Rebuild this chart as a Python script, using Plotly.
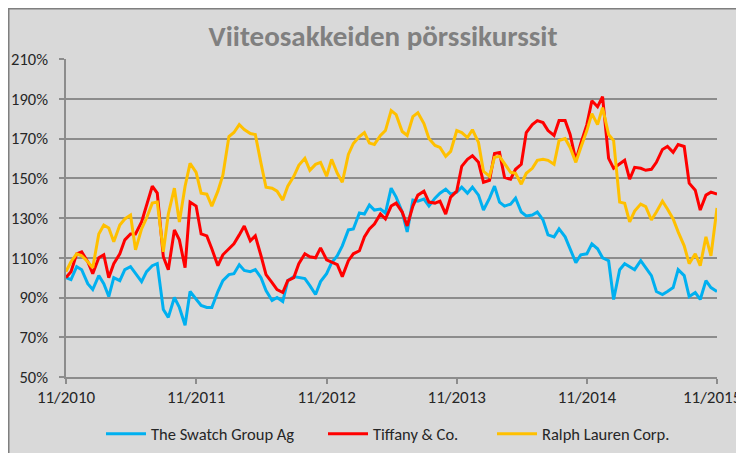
import pandas as pd
import plotly.graph_objects as go

# semi-monthly observation dates, Nov 2010 .. Nov 2015
dates = pd.date_range("2010-11-01", "2015-11-01", freq="SMS")

swatch = [100, 99, 105.5, 104, 97, 94, 101, 97, 90.5, 100, 98.5, 104, 105.5, 102, 98, 103, 106, 107, 84, 80, 90,
          85, 76, 93, 89, 86, 85, 85, 93, 98.5, 101.5, 102, 106.5, 103.6, 103, 104, 100, 93.5, 88.5, 90, 88,
          98.5, 100.5, 100, 99.5, 96, 91.5, 98, 102, 107.5, 111, 116, 124, 124.5, 132.5, 132, 136.5, 134, 134.5, 132.5, 145,
          140.5, 133, 123, 139, 138.5, 139.5, 136, 140, 142.5, 144.5, 142, 143, 145.5, 142.5, 145.5, 141.5, 134, 140, 146, 138,
          136, 137, 140, 133, 131, 131.5, 133, 129, 121.5, 120.5, 124.5, 120.5, 114.5, 107.5, 111.5, 112, 117, 114.5, 110, 108.5,
          89, 104, 107, 105.5, 104, 108.5, 105, 101, 93, 91.5, 93, 95, 104, 101, 90.5, 92.5, 89, 98.5, 95, 93]

tiffany = [100, 103, 112, 113, 108, 102, 110, 111.5, 100, 107, 112, 119, 122, 122, 128, 137, 146, 142.5, 110.5, 104, 124,
           119, 105, 138, 136, 122, 121, 114.5, 106, 111.5, 114.5, 117, 121.5, 126, 118.5, 121, 111, 101.5, 97.5, 94, 92.5,
           98.5, 100, 107, 112, 110.5, 110, 115, 109, 108, 106.5, 100.5, 108.5, 112, 113.5, 120.5, 124.5, 127, 132, 129.5, 136,
           137.5, 133, 126, 136, 141.5, 143.5, 138, 137.5, 138.5, 132, 140.5, 143.5, 156, 159.5, 161.3, 158, 148, 149, 162.5, 163,
           150.5, 149.5, 154.5, 157, 173, 177, 179, 178, 174, 171.5, 179, 179, 172, 159, 167.5, 177, 189, 186, 191, 160,
           155, 157, 159, 149.5, 155.5, 155, 154, 154.5, 158, 164.5, 166, 163, 167, 166, 147.5, 144, 134, 141.5, 143, 142]

ralph = [103, 108, 112, 111, 108, 105, 122, 126.5, 125, 118, 126.5, 129.5, 131.5, 114, 124.5, 130, 137.5, 138, 113, 132, 145,
         128, 146, 157.5, 153, 142.5, 142, 136, 143.5, 151.5, 171, 173, 177, 174.5, 172.5, 172, 157.5, 145.5, 145, 143.5, 139,
         146, 151, 156.5, 160, 154, 157, 158, 151, 159.5, 152.5, 148, 162, 167.5, 171, 173, 167.7, 167, 171.5, 174, 184,
         182, 173.5, 171.5, 181, 183, 177.5, 170, 166.5, 165.5, 161, 163.5, 174, 173, 170.5, 174.4, 168, 153.5, 151, 160.5, 161,
         157.5, 153, 152.5, 147, 152.5, 155, 159, 159.5, 159, 157, 169, 170, 165.5, 158, 165.5, 174, 182.5, 177, 185.5, 172,
         169, 138, 137.4, 128, 133.5, 137, 135.7, 129, 133, 138.5, 134.5, 129.5, 123, 116, 107, 112, 106, 120.5, 111, 135]

series_names = ["The Swatch Group Ag", "Tiffany & Co.", "Ralph Lauren Corp."]
series_colors = ["#00b0f0", "#ff0000", "#ffc000"]

tick_dates = ["2010-11-01", "2011-11-01", "2012-11-01", "2013-11-01", "2014-11-01", "2015-11-01"]
tick_text = ["11/2010", "11/2011", "11/2012", "11/2013", "11/2014", "11/2015"]
y_ticks = [50, 70, 90, 110, 130, 150, 170, 190, 210]
y_text = ["50%", "70%", "90%", "110%", "130%", "150%", "170%", "190%", "210%"]

FONT = "Carlito, Liberation Sans Narrow, Roboto, sans-serif"

OFF = 8  # page body margin
W, H = 744 - OFF, 453 - OFF
L, T = 66 - OFF, 59 - OFF
pw, ph = 651, 318
R, B = W - L - pw, H - T - ph


def px(x):  # page pixel -> paper x
    return (x - OFF - L) / pw


def py(y):  # page pixel -> paper y
    return (T + ph - (y - OFF)) / ph


legend_ids = ["legend", "legend2", "legend3"]
legend_left = [101, 323, 492]

fig = go.Figure()
for name, vals, col, lid in zip(series_names, [swatch, tiffany, ralph], series_colors, legend_ids):
    fig.add_trace(go.Scatter(x=dates, y=vals, name=name, mode="lines", legend=lid,
                             line=dict(color=col, width=3)))

shapes = [
    dict(type="line", xref="paper", yref="paper", x0=px(OFF), x1=px(760), y0=py(OFF + 0.5), y1=py(OFF + 0.5),
         line=dict(color="#7f7f7f", width=2), layer="above"),
    dict(type="line", xref="paper", yref="paper", x0=px(OFF + 0.5), x1=px(OFF + 0.5), y0=py(OFF), y1=py(470),
         line=dict(color="#7f7f7f", width=2), layer="above"),
]

legend_common = dict(orientation="h", xanchor="left", y=py(434), yanchor="middle",
                     font=dict(family=FONT, size=16.5, color="#262626"), bgcolor="rgba(0,0,0,0)",
                     itemwidth=40)

layout_legends = {lid: dict(legend_common, x=px(xl)) for lid, xl in zip(legend_ids, legend_left)}

TICK_FONT = dict(family=FONT, size=17, color="#262626")

# the last date label sits at the right edge of the page; draw it right-aligned so it is not clipped
axis_text = tick_text[:-1] + [""]
annotations = [dict(text=tick_text[-1], xref="paper", x=px(743), xanchor="right",
                    yref="paper", y=py(397), yanchor="middle", showarrow=False, font=TICK_FONT)]

fig.update_layout(
    width=W, height=H,
    margin=dict(l=L, r=R, t=T, b=B, autoexpand=False),
    paper_bgcolor="#d9d9d9", plot_bgcolor="#d9d9d9",
    font=dict(family=FONT, size=16, color="#262626"),
    title=dict(text="<b>Viiteosakkeiden pörssikurssit</b>", xref="paper", x=px(383), xanchor="center",
               yref="container", y=1 - (36 - OFF) / H, yanchor="middle",
               font=dict(family=FONT, size=29, color="#808080")),
    showlegend=True,
    shapes=shapes,
    annotations=annotations,
    xaxis=dict(type="date", range=["2010-11-01", "2015-11-01"], tickvals=tick_dates, ticktext=axis_text,
               showgrid=False, showline=True, linecolor="#8c8c8c", linewidth=1.5, automargin=False,
               ticks="outside", ticklen=5, tickcolor="#8c8c8c", tickwidth=1.5, zeroline=False,
               ticklabeloverflow="allow", ticklabelstandoff=-1,
               tickfont=TICK_FONT),
    yaxis=dict(range=[50, 210], tickvals=y_ticks, ticktext=y_text, showgrid=True, gridcolor="#8c8c8c",
               gridwidth=1.5, showline=True, linecolor="#8c8c8c", linewidth=1.5, ticks="outside",
               ticklen=5, tickcolor="#8c8c8c", tickwidth=1.5, zeroline=False, automargin=False,
               ticklabelstandoff=8,
               tickfont=dict(family=FONT, size=16.5, color="#262626")),
    **layout_legends,
)

fig.write_html("out.html")
